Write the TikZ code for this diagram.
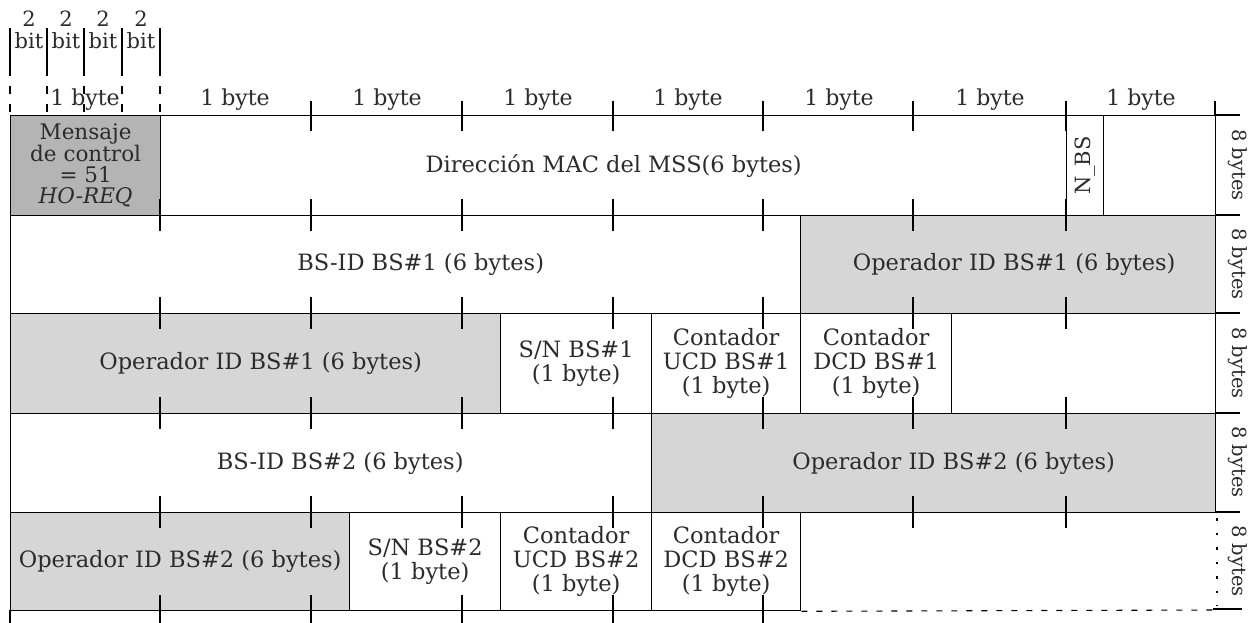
\documentclass[tikz,border=0pt]{standalone}
\usepackage{fontspec}
\setmainfont{DejaVu Serif}
\definecolor{txt}{HTML}{2B2B2B}
\definecolor{dkfill}{HTML}{B4B4B4}
\definecolor{ltfill}{HTML}{D6D6D6}
\newcommand\fs{\fontsize{22.5}{24}\selectfont}
\newcommand\fieldbox[7]{%
  \pgfmathsetmacro\fbw{#4-#2}\pgfmathsetmacro\fbh{#5-#3}%
  \node[fld,#6,minimum width=\fbw pt,minimum height=\fbh pt,anchor=north west] (#1) at (#2,#3) {#7};}
\begin{document}
\begin{tikzpicture}[x=1pt,y=-1pt,line width=1.3pt,
  fld/.style={draw=black,inner sep=0pt,align=center,text=txt,font=\fs},
  dark/.style={fill=dkfill},
  light/.style={fill=ltfill},
  plain/.style={fill=white},
  lbl/.style={text=txt,font=\fs,inner sep=0pt},
  tick/.style={line width=1.1pt},
  guide/.style={line width=1.1pt,dash pattern=on 8pt off 10pt}]
\useasboundingbox (0,0) rectangle (1256,623);
\fill[white] (0,0) rectangle (1256,623);

% header: bit columns
\foreach \i/\cx in {1/29,2/66,3/103,4/141}{
  \node[lbl,font=\fontsize{21}{24}\selectfont] (two\i) at (\cx,19) {2};
  \node[lbl,font=\fontsize{21}{24}\selectfont] (bit\i) at (\cx,41) {bit};
}
\foreach \bx in {10,47,84,122,160}{
  \draw[tick] (\bx,28) -- (\bx,68);
  \draw[guide] (\bx,68) -- (\bx,115);
}
% byte labels
\foreach \i/\cx in {1/85,2/235,3/387,4/538,5/688,6/839,7/990,8/1141}{
  \node[lbl,font=\fontsize{22}{24}\selectfont] (byte\i) at (\cx,100) {1 byte};
}

% row 1
\fieldbox{msg}{10}{115}{160}{215}{dark,font=\fontsize{21.5}{21}\selectfont}{Mensaje\\de control\\= 51\\\textit{HO-REQ}}
\fieldbox{mac}{160}{115}{1066}{215}{plain}{Dirección MAC del MSS(6 bytes)}
\fieldbox{nbs}{1066}{115}{1103}{215}{plain}{}
\node[lbl,rotate=90,font=\fontsize{21}{24}\selectfont] (nbstxt) at (nbs.center) {N\_BS};
\fieldbox{r1e}{1103}{115}{1215}{215}{plain}{}
% row 2
\fieldbox{bsid1}{10}{215}{800}{313}{plain}{\hspace*{30pt}BS-ID BS\#1 (6 bytes)}
\fieldbox{op1a}{800}{215}{1215}{313}{light}{\hspace*{12pt}Operador ID BS\#1 (6 bytes)}
% row 3
\fieldbox{op1b}{10}{313}{500}{413}{light}{\hspace*{10pt}Operador ID BS\#1 (6 bytes)}
\fieldbox{sn1}{500}{313}{651}{413}{plain}{S/N BS\#1\\(1 byte)}
\fieldbox{ucd1}{651}{313}{800}{413}{plain}{Contador\\UCD BS\#1\\(1 byte)}
\fieldbox{dcd1}{800}{313}{951}{413}{plain}{Contador\\DCD BS\#1\\(1 byte)}
\fieldbox{r3e}{951}{313}{1215}{413}{plain}{}
% row 4
\fieldbox{bsid2}{10}{413}{651}{512}{plain}{\hspace*{18pt}BS-ID BS\#2 (6 bytes)}
\fieldbox{op2a}{651}{413}{1215}{512}{light}{\hspace*{40pt}Operador ID BS\#2 (6 bytes)}
% row 5
\fieldbox{op2b}{10}{512}{349}{610}{light}{Operador ID BS\#2 (6 bytes)}
\fieldbox{sn2}{349}{512}{500}{610}{plain}{S/N BS\#2\\(1 byte)}
\fieldbox{ucd2}{500}{512}{651}{610}{plain}{Contador\\UCD BS\#2\\(1 byte)}
\fieldbox{dcd2}{651}{512}{800}{610}{plain}{Contador\\DCD BS\#2\\(1 byte)}
\draw[line width=1.1pt,dash pattern=on 6pt off 9pt] (dcd2.south east) -- (1213,610);
\draw[line width=1.1pt,dash pattern=on 2.5pt off 12pt] (1217,518) -- (1217,606);
\draw[line width=1.1pt] (1213,609) -- (1242,609);

% tick marks across the row boundaries
\foreach \ty in {215,313,413,512}{
  \foreach \tx in {160,311,462,613,763,913,1066}{
    \draw[tick] (\tx,\ty-16) -- (\tx,\ty+16);
  }
}
\foreach \tx in {311,462,613,763,913,1066}{
  \draw[tick] (\tx,101) -- (\tx,131);
}
\foreach \tx in {160,311,462,613,763}{
  \draw[tick] (\tx,595) -- (\tx,623);
}
\draw[tick] (1215,101) -- (1215,115);
\draw[line width=1.3pt] (10,610) -- (10,623);

% right side extensions and labels
\foreach \ty in {115,215,313,413,512}{
  \draw[line width=1.3pt] (1215,\ty) -- (1240,\ty);
}
\foreach \i/\cy in {1/165,2/264,3/363,4/462,5/561}{
  \node[lbl,rotate=-90,font=\fontsize{19.5}{22}\selectfont] (eight\i) at (1238,\cy) {8 bytes};
}
\end{tikzpicture}
\end{document}
